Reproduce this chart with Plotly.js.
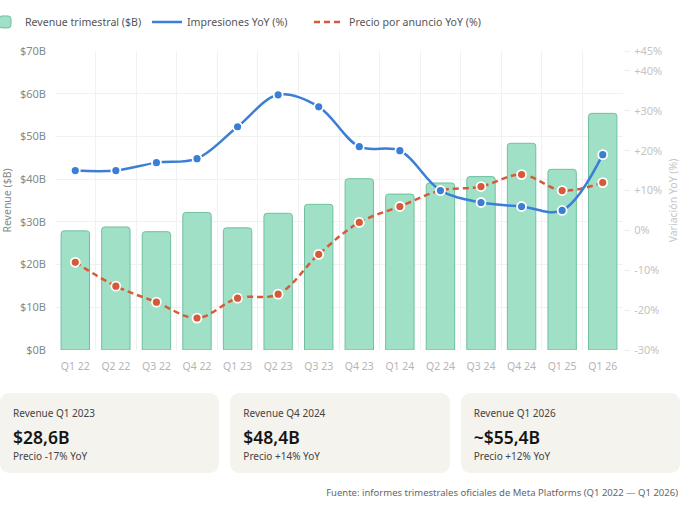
<!DOCTYPE html>
<html>
<head>
<meta charset="utf-8">
<script src="https://cdn.plot.ly/plotly-3.0.1.min.js"></script>
<style>
  html, body { margin: 0; padding: 0; background: #fff; }
  body { width: 680px; height: 507px; overflow: hidden; font-family: "Segoe UI", "Noto Sans", sans-serif; }
  #chart { width: 680px; height: 385px; }
  .cards { display: flex; gap: 11px; margin-top: 8px; }
  .card { flex: 1; background: #f4f3ee; border-radius: 9px; height: 80px; box-sizing: border-box; padding: 13px 13px 0 13px; }
  .card .t { font-size: 10px; color: #444; line-height: 14px; }
  .card .v { font-size: 17.5px; font-weight: 600; color: #151515; line-height: 24px; margin-top: 5px; }
  .card .s { font-size: 10px; color: #444; line-height: 14px; margin-top: 0px; }
  .foot { text-align: right; font-size: 9.5px; color: #666; margin-top: 13px; padding-right: 2px; }
</style>
</head>
<body>
<div id="chart"></div>
<div class="cards" id="cards"></div>
<div class="foot">Fuente: informes trimestrales oficiales de Meta Platforms (Q1 2022 — Q1 2026)</div>
<script>
const quarters = ["Q1 22","Q2 22","Q3 22","Q4 22","Q1 23","Q2 23","Q3 23","Q4 23","Q1 24","Q2 24","Q3 24","Q4 24","Q1 25","Q1 26"];
const revenue = [27.9, 28.8, 27.7, 32.2, 28.6, 32.0, 34.1, 40.1, 36.5, 39.1, 40.6, 48.4, 42.3, 55.4];
const impressionsYoY = [15, 15, 17, 18, 26, 34, 31, 21, 20, 10, 7, 6, 5, 19];
const pricePerAdYoY = [-8, -14, -18, -22, -17, -16, -6, 2, 6, 10, 11, 14, 10, 12];
const rightTickVals = [-30, -20, -10, 0, 10, 20, 30, 40, 45];
const rightTickText = ["-30%", "-20%", "-10%", "0%", "+10%", "+20%", "+30%", "+40%", "+45%"];
const cardTitles = ["Revenue Q1 2023", "Revenue Q4 2024", "Revenue Q1 2026"];
const cardValues = ["$28,6B", "$48,4B", "~$55,4B"];
const cardNotes = ["Precio -17% YoY", "Precio +14% YoY", "Precio +12% YoY"];

const BLUE = "#3a7fd5";
const RED = "#d65a38";
const FONT = '"Segoe UI", "Noto Sans", sans-serif';

const traces = [
  {
    type: "bar", name: "Revenue trimestral ($B)", x: quarters, y: revenue, yaxis: "y",
    width: 0.7,
    marker: { color: "#9fe0c7", line: { color: "#70c09f", width: 1 }, cornerradius: 3 },
    legendrank: 1, hoverinfo: "skip"
  },
  {
    type: "scatter", mode: "lines", name: "Precio por anuncio YoY (%)", x: quarters, y: pricePerAdYoY, yaxis: "y2",
    line: { color: RED, width: 2.5, dash: "6px,4px", shape: "spline", smoothing: 1 },
    legendrank: 3
  },
  {
    type: "scatter", mode: "markers", showlegend: false, x: quarters, y: pricePerAdYoY, yaxis: "y2",
    marker: { color: RED, size: 9, line: { color: "#fff", width: 1.8 } }
  },
  {
    type: "scatter", mode: "lines", name: "Impresiones YoY (%)", x: quarters, y: impressionsYoY, yaxis: "y2",
    line: { color: BLUE, width: 2.5, shape: "spline", smoothing: 1 },
    legendrank: 2
  },
  {
    type: "scatter", mode: "markers", showlegend: false, x: quarters, y: impressionsYoY, yaxis: "y2",
    marker: { color: BLUE, size: 9, line: { color: "#fff", width: 1.8 } }
  }
];

const layout = {
  width: 680, height: 385,
  margin: { l: 55, r: 57, t: 51, b: 35 },
  paper_bgcolor: "#fff", plot_bgcolor: "#fff",
  font: { family: FONT, size: 11, color: "#555" },
  showlegend: true,
  legend: {
    orientation: "h", xref: "container", yref: "container",
    x: 0, y: 0.943, xanchor: "left", yanchor: "middle",
    font: { size: 10.6, color: "#555", family: FONT },
    itemwidth: 30, indentation: -15,
    entrywidth: 132, entrywidthmode: "pixels"
  },
  xaxis: {
    type: "category", range: [-0.5, quarters.length - 0.5],
    showgrid: true, gridcolor: "#f1f1f1", tickson: "boundaries",
    ticks: "", showline: false, zeroline: false, automargin: false, tickangle: 0,
    tickfont: { size: 10.5, color: "#b5b5b5" }, ticklabelstandoff: 8
  },
  yaxis: {
    range: [0, 70], dtick: 10, tickprefix: "$", ticksuffix: "B", automargin: false,
    showgrid: true, gridcolor: "#f1f1f1", zeroline: false, showline: false, ticks: "",
    tickfont: { size: 11, color: "#7f8c89" }, ticklabelstandoff: 8,
    title: { text: "Revenue ($B)", font: { size: 10.5, color: "#7f8c89" }, standoff: 14 }
  },
  yaxis2: {
    overlaying: "y", side: "right", range: [-30, 45], automargin: false,
    tickmode: "array", tickvals: rightTickVals, ticktext: rightTickText,
    showgrid: false, zeroline: false, showline: false,
    ticks: "outside", ticklen: 6, tickcolor: "#eeeeee",
    tickfont: { size: 11, color: "#c4c4c4" }, ticklabelstandoff: 2,
    title: { text: "Variación YoY (%)", font: { size: 10.5, color: "#c4c4c4" }, standoff: 8 }
  }
};

Plotly.newPlot("chart", traces, layout, { displayModeBar: false, staticPlot: true });

const cardsEl = document.getElementById("cards");
cardTitles.forEach((t, i) => {
  const c = document.createElement("div");
  c.className = "card";
  c.innerHTML = '<div class="t"></div><div class="v"></div><div class="s"></div>';
  c.querySelector(".t").textContent = t;
  c.querySelector(".v").textContent = cardValues[i];
  c.querySelector(".s").textContent = cardNotes[i];
  cardsEl.appendChild(c);
});
</script>
</body>
</html>
